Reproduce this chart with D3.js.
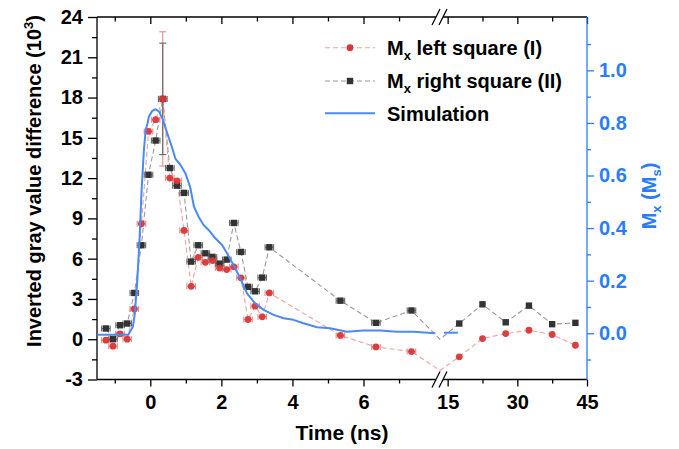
<!DOCTYPE html>
<html><head><meta charset="utf-8">
<script src="https://cdn.jsdelivr.net/npm/d3@7"></script>
<style>
body{margin:0;background:#fff}
svg{display:block}
text{font-family:"Liberation Sans",Arial,Helvetica,sans-serif;font-weight:bold}
</style>
</head><body>
<svg id="c" width="679" height="449"></svg>
<script>
// ---------------- data ----------------
const times = [-1.25,-1.05,-0.85,-0.65,-0.45,-0.25,-0.05,0.15,0.35,0.55,0.75,0.95,1.15,1.35,1.55,1.75,1.95,2.15,2.35,2.55,2.75,2.95,3.15,3.35,5.35,6.35,7.35,11.4,17.5,22.5,27.5,32.5,37.5,42.5];
const leftSquare = [-0.07,-0.52,0.40,0.0,2.26,8.6,15.48,16.35,17.9,12.0,11.8,8.1,3.94,6.1,5.73,5.86,5.3,5.19,5.39,4.57,1.47,2.46,1.67,3.45,0.28,-0.57,-0.92,-2.33,-1.31,0.05,0.42,0.67,0.35,-0.45];
const rightSquare = [0.80,0.0,1.04,1.17,3.45,7.0,12.25,14.8,17.9,12.75,11.44,10.9,5.78,7.0,6.4,6.13,5.63,5.93,8.66,6.5,3.9,3.57,4.59,6.85,2.87,1.22,2.14,0.0,1.17,2.6,1.26,2.5,1.12,1.22];
const leftYErr  = [0,0,0,0,0,0,0,0,5.0,0,0,0,0,0,0,0,0,0,0,0,0,0,0,0,0,0,0,0,0,0,0,0,0,0];
const rightYErr = [0,0,0,0,0,0,0,0,4.15,0,0,0,0,0,0,0,0,0,0,0,0,0,0,0,0,0,0,0,0,0,0,0,0,0];
const timeErr = 0.12;

const simTime = [-1.49,-0.62,-0.49,-0.44,-0.37,-0.30,-0.245,-0.18,-0.13,-0.08,-0.04,0.056,0.15,0.245,0.34,0.48,0.62,0.71,0.85,0.99,1.12,1.23,1.37,1.50,1.64,1.83,2.02,2.16,2.34,2.53,2.72,2.95,3.19,3.47,3.75,4.03,4.31,4.69,5.06,5.53,6.0,6.47,6.94,7.41,8.02];
const simMx   = [-0.006,-0.006,0.025,0.07,0.19,0.367,0.545,0.697,0.773,0.798,0.824,0.846,0.852,0.843,0.817,0.760,0.703,0.663,0.640,0.608,0.557,0.481,0.44,0.412,0.393,0.361,0.336,0.304,0.26,0.209,0.152,0.114,0.089,0.07,0.057,0.051,0.038,0.023,0.019,0.006,0.010,0.010,0.006,0.006,0.0];
const simTimeLate = [14.2, 17.2];
const simMxLate   = [0.002, 0.002];

const xTicksEarly = [0,2,4,6];
const xMinorEarly = [-1,1,3,5,7];
const xTicksLate  = [15,30,45];
const xMinorLate  = [22.5,37.5];
const yTicks = [-3,0,3,6,9,12,15,18,21,24];
const yMinor = [-1.5,1.5,4.5,7.5,10.5,13.5,16.5,19.5,22.5];
const mTicks = [0,0.2,0.4,0.6,0.8,1.0];
const mMinor = [-0.1,0.1,0.3,0.5,0.7,0.9,1.1];

// ---------------- layout ----------------
const L = 97, R = 587, T = 17, B = 379.5;
const brkA = 436, brkB = 443;
const earlyEnd = 8.04, lateStart = 14;
const RED = "#d93636", RED_LINE = "#f2a0a0", RED_ERR = "#e58a8a";
const BLK = "#333333", BLK_LINE = "#9a9a9a", BLK_ERR = "#666666";
const BLUE = "#4a8af4", AXBLUE = "#2a7cff";
const FS = 20;

const svg = d3.select("#c");
const xEarly = d3.scaleLinear([-1.5, earlyEnd], [L, brkA]);
const xLate  = d3.scaleLinear([lateStart, 45], [brkB, R]);
const xGap   = d3.scaleLinear([earlyEnd, lateStart], [brkA, brkB]);
const X = t => t <= earlyEnd ? xEarly(t) : (t >= lateStart ? xLate(t) : xGap(t));
const yL = d3.scaleLinear([-3, 24], [B, T]);
const yR = d3.scaleLinear([-0.176, 1.203], [B, T]);
const inGap = t => t > earlyEnd && t < lateStart;

// ---------------- axes ----------------
function styleAxis(g, color, labels){
  g.select(".domain").remove();
  g.selectAll(".tick line").attr("stroke", color).attr("stroke-width", 1.3);
  if (labels) g.selectAll(".tick text").attr("font-size", FS).attr("fill", color).attr("font-weight","bold");
  else g.selectAll(".tick text").remove();
}
// bottom
svg.append("g").attr("transform",`translate(0,${B})`)
  .call(d3.axisBottom(xEarly).tickValues(xTicksEarly).tickSize(7).tickPadding(8).tickFormat(d=>String(d)))
  .call(g=>styleAxis(g,"#000",true));
svg.append("g").attr("transform",`translate(0,${B})`)
  .call(d3.axisBottom(xEarly).tickValues(xMinorEarly).tickSize(4))
  .call(g=>styleAxis(g,"#000",false));
svg.append("g").attr("transform",`translate(0,${B})`)
  .call(d3.axisBottom(xLate).tickValues(xTicksLate).tickSize(7).tickPadding(8).tickFormat(d=>String(d)))
  .call(g=>styleAxis(g,"#000",true));
svg.append("g").attr("transform",`translate(0,${B})`)
  .call(d3.axisBottom(xLate).tickValues(xMinorLate).tickSize(4))
  .call(g=>styleAxis(g,"#000",false));
// top (inward ticks)
svg.append("g").attr("transform",`translate(0,${T})`)
  .call(d3.axisBottom(xEarly).tickValues(xTicksEarly).tickSize(7))
  .call(g=>styleAxis(g,"#000",false));
svg.append("g").attr("transform",`translate(0,${T})`)
  .call(d3.axisBottom(xEarly).tickValues(xMinorEarly).tickSize(4.5))
  .call(g=>styleAxis(g,"#000",false));
svg.append("g").attr("transform",`translate(0,${T})`)
  .call(d3.axisBottom(xLate).tickValues(xTicksLate).tickSize(7))
  .call(g=>styleAxis(g,"#000",false));
svg.append("g").attr("transform",`translate(0,${T})`)
  .call(d3.axisBottom(xLate).tickValues(xMinorLate).tickSize(4.5))
  .call(g=>styleAxis(g,"#000",false));
// left
svg.append("g").attr("transform",`translate(${L},0)`)
  .call(d3.axisLeft(yL).tickValues(yTicks).tickSize(9).tickPadding(5).tickFormat(d=>String(d)))
  .call(g=>styleAxis(g,"#000",true));
svg.append("g").attr("transform",`translate(${L},0)`)
  .call(d3.axisLeft(yL).tickValues(yMinor).tickSize(5))
  .call(g=>styleAxis(g,"#000",false));
// right
svg.append("g").attr("transform",`translate(${R},0)`)
  .call(d3.axisRight(yR).tickValues(mTicks).tickSize(7).tickPadding(5).tickFormat(d3.format(".1f")))
  .call(g=>styleAxis(g,AXBLUE,true));
svg.append("g").attr("transform",`translate(${R},0)`)
  .call(d3.axisRight(yR).tickValues(mMinor).tickSize(4))
  .call(g=>styleAxis(g,AXBLUE,false));

// axis lines with break
const axG = svg.append("g").attr("stroke-width",1.3).attr("fill","none");
[T,B].forEach(y=>{
  axG.append("line").attr("x1",L).attr("x2",brkA).attr("y1",y).attr("y2",y).attr("stroke","#000");
  axG.append("line").attr("x1",brkB).attr("x2",R).attr("y1",y).attr("y2",y).attr("stroke","#000");
  [brkA,brkB].forEach(cx=>{
    axG.append("line").attr("x1",cx-4).attr("y1",y+8).attr("x2",cx+4).attr("y2",y-8).attr("stroke","#000");
  });
});
axG.append("line").attr("x1",L).attr("x2",L).attr("y1",T).attr("y2",B).attr("stroke","#000");
axG.append("line").attr("x1",R).attr("x2",R).attr("y1",T).attr("y2",B).attr("stroke",AXBLUE);

// ---------------- series ----------------
const idx = d3.range(times.length);
function series(vals, lineColor){
  const line = d3.line().x(i=>X(times[i])).y(i=>yL(vals[i]));
  svg.append("path").attr("d", line(idx)).attr("fill","none")
    .attr("stroke", lineColor).attr("stroke-width",1.1).attr("stroke-dasharray","5,3");
}
series(rightSquare, BLK_LINE);
series(leftSquare, RED_LINE);

function errorBars(vals, yerr, color){
  const g = svg.append("g").attr("stroke", color).attr("stroke-width",1.1).attr("fill","none");
  idx.forEach(i=>{
    const t = times[i]; if (inGap(t)) return;
    const cx = X(t), cy = yL(vals[i]);
    const x0 = X(t - timeErr), x1 = X(t + timeErr);
    if (x1 - x0 > 4){
      g.append("line").attr("x1",x0).attr("x2",x1).attr("y1",cy).attr("y2",cy);
      g.append("line").attr("x1",x0).attr("x2",x0).attr("y1",cy-3).attr("y2",cy+3);
      g.append("line").attr("x1",x1).attr("x2",x1).attr("y1",cy-3).attr("y2",cy+3);
    }
    if (yerr[i] > 0){
      const y0 = yL(vals[i]-yerr[i]), y1 = yL(vals[i]+yerr[i]);
      g.append("line").attr("x1",cx).attr("x2",cx).attr("y1",y0).attr("y2",y1);
      g.append("line").attr("x1",cx-3.5).attr("x2",cx+3.5).attr("y1",y0).attr("y2",y0);
      g.append("line").attr("x1",cx-3.5).attr("x2",cx+3.5).attr("y1",y1).attr("y2",y1);
    }
  });
}
errorBars(leftSquare, leftYErr, RED_ERR);
errorBars(rightSquare, rightYErr, BLK_ERR);

svg.append("g").selectAll("rect").data(idx.filter(i=>!inGap(times[i]))).join("rect")
  .attr("x", i=>X(times[i])-3.2).attr("y", i=>yL(rightSquare[i])-3.2)
  .attr("width",6.4).attr("height",6.4).attr("fill",BLK);
svg.append("g").selectAll("circle").data(idx.filter(i=>!inGap(times[i]))).join("circle")
  .attr("cx", i=>X(times[i])).attr("cy", i=>yL(leftSquare[i])).attr("r",3.4)
  .attr("fill",RED).attr("fill-opacity",0.95);

// simulation
const simLine = d3.line().x(d=>X(d[0])).y(d=>yR(d[1]));
svg.append("path").attr("d", simLine(simTime.map((t,i)=>[t,simMx[i]])))
  .attr("fill","none").attr("stroke",BLUE).attr("stroke-width",2).attr("stroke-linejoin","round");
svg.append("path").attr("d", simLine(simTimeLate.map((t,i)=>[t,simMxLate[i]])))
  .attr("fill","none").attr("stroke",BLUE).attr("stroke-width",2);

// ---------------- titles ----------------
svg.append("text").attr("x",342).attr("y",440).attr("text-anchor","middle")
  .attr("font-size",FS+1).text("Time (ns)");

const yt = svg.append("text").attr("transform","translate(41,181) rotate(-90)")
  .attr("text-anchor","middle").attr("font-size",FS);
yt.append("tspan").text("Inverted gray value difference (10");
yt.append("tspan").attr("font-size",13).attr("dy",-8).text("3");
yt.append("tspan").attr("dy",8).text(")");

const rt = svg.append("text").attr("transform","translate(656,196) rotate(-90)")
  .attr("text-anchor","middle").attr("font-size",FS).attr("fill",AXBLUE);
rt.append("tspan").text("M");
rt.append("tspan").attr("font-size",13).attr("dy",5).text("x");
rt.append("tspan").attr("dy",-5).text(" (M");
rt.append("tspan").attr("font-size",13).attr("dy",5).text("s");
rt.append("tspan").attr("dy",-5).text(")");

// ---------------- legend ----------------
const lg = svg.append("g");
const legendRows = [
  {y:47.7, kind:"circle", line:RED_LINE, mark:RED, dash:"5,3", label:["M","x"," left square (I)"]},
  {y:81,   kind:"square", line:BLK_LINE, mark:BLK, dash:"5,3", label:["M","x"," right square (II)"]},
  {y:113.3,kind:"none",   line:BLUE,     mark:null, dash:null, label:["Simulation"]}
];
legendRows.forEach(r=>{
  lg.append("line").attr("x1",325).attr("x2",375).attr("y1",r.y).attr("y2",r.y)
    .attr("stroke",r.line).attr("stroke-width", r.kind==="none"?2:1.1)
    .attr("stroke-dasharray", r.dash);
  if (r.kind==="circle") lg.append("circle").attr("cx",350).attr("cy",r.y).attr("r",3.4).attr("fill",r.mark);
  if (r.kind==="square") lg.append("rect").attr("x",346.8).attr("y",r.y-3.2).attr("width",6.4).attr("height",6.4).attr("fill",r.mark);
  const tx = lg.append("text").attr("x",387).attr("y",r.y+7.3).attr("font-size",FS);
  if (r.label.length===1) tx.text(r.label[0]);
  else {
    tx.append("tspan").text(r.label[0]);
    tx.append("tspan").attr("font-size",13).attr("dy",5).text(r.label[1]);
    tx.append("tspan").attr("dy",-5).text(r.label[2]);
  }
});
</script>
</body></html>
